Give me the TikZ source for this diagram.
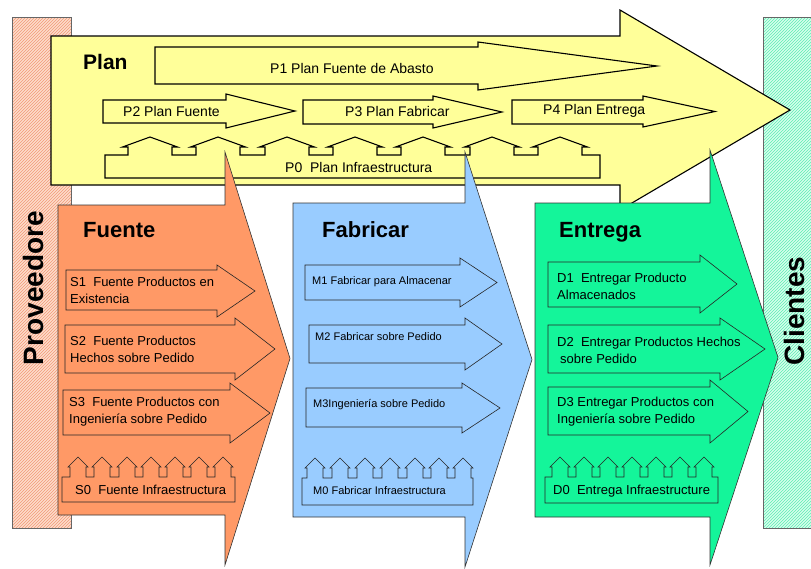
\documentclass[tikz,border=0pt]{standalone}
\usepackage{fontspec}
\setmainfont{Liberation Sans}
\usetikzlibrary{patterns}
\definecolor{planyellow}{HTML}{FFFF99}
\definecolor{srcorange}{HTML}{FF9966}
\definecolor{makeblue}{HTML}{99CCFF}
\definecolor{delgreen}{HTML}{14F59A}
\definecolor{provfill}{HTML}{FDDCCB}
\definecolor{provline}{HTML}{F29A78}
\definecolor{clifill}{HTML}{D6FFEC}
\definecolor{cliline}{HTML}{5EEBB4}
% block arrow: style, left, top, right, bottom, head top, head bottom, tip
\newcommand{\blockarrow}[8]{%
  \draw[#1] (#2,#3) -- (#4,#3) -- (#4,#6) -- (#8,{(#6+#7)/2}) -- (#4,#7) -- (#4,#5) -- (#2,#5) -- cycle;}
% infrastructure bar: style, left, right, top, bottom, peaks, half width, wall, roof
\newcommand{\infrabar}[9]{%
  \draw[#1] (#2,#5) -- (#2,#4)
    foreach \px in {#6} { -- (\px-#7,#4) -- (\px-#7,#4-#8) -- (\px-1.25*#7,#4-#8)
      -- (\px,#4-#8-#9) -- (\px+1.25*#7,#4-#8) -- (\px+#7,#4-#8) -- (\px+#7,#4) }
    -- (#3,#4) -- (#3,#5) -- cycle;}
\begin{document}
\begin{tikzpicture}[x=1pt,y=-1pt,
  bigline/.style={draw=black!80, line width=0.6pt},
  subline/.style={draw=black!85, line width=0.6pt},
  planline/.style={draw=black, line width=1.1pt},
  title/.style={anchor=west, inner sep=0pt, font=\fontsize{22}{26}\selectfont\bfseries},
  side/.style={rotate=90, inner sep=0pt, font=\fontsize{28}{32}\selectfont\bfseries},
  plbl/.style={anchor=west, inner sep=0pt, font=\fontsize{14}{17}\selectfont},
  lbl/.style={anchor=west, inner sep=0pt, align=left, font=\fontsize{13}{17}\selectfont},
  mlbl/.style={anchor=west, inner sep=0pt, font=\fontsize{11}{13}\selectfont}]
\useasboundingbox (0,0) rectangle (811,568);
\draw[black!60, line width=0.5pt, preaction={fill=provfill}, pattern=north east lines, pattern color=provline] (12,17) rectangle (71,528);
\draw[black!60, line width=0.5pt, preaction={fill=clifill}, pattern=north east lines, pattern color=cliline] (763,17) rectangle (820,528);
\node[side] (prov) at (33,288) {Proveedore};
\node[side] (cli) at (794,311) {Clientes};

\blockarrow{planline, fill=planyellow}{51}{36}{620}{185}{10}{210}{790}
\blockarrow{planline}{155}{47}{478}{84}{42}{90}{657}
\blockarrow{planline}{103}{100}{226}{123}{94}{128}{295}
\blockarrow{planline}{303}{100}{433}{124}{96}{128}{502}
\blockarrow{planline}{512}{100}{643}{124}{96}{127}{715}
\infrabar{planline}{105}{600}{155}{178}{150,218,287,355,423,492,560}{22}{8}{10}
\node[title, font=\fontsize{21}{25}\selectfont\bfseries] (plan) at (83,62) {Plan};
\node[plbl] (p1) at (270,68) {P1 Plan Fuente de Abasto};
\node[plbl] (p2) at (123,111) {P2 Plan Fuente};
\node[plbl] (p3) at (345,111) {P3 Plan Fabricar};
\node[plbl] (p4) at (543,111) {P4 Plan Entrega};
\node[plbl] (p0) at (285,167) {P0~~Plan Infraestructura};

\blockarrow{bigline, fill=srcorange}{58}{205}{225}{515}{152}{565}{290}
\blockarrow{subline}{66}{270}{217}{310}{265}{317}{255}
\blockarrow{subline}{65}{325}{235}{373}{318}{380}{275}
\blockarrow{subline}{63}{390}{230}{435}{383}{443}{270}
\infrabar{subline}{62}{235}{477}{502}{78,102,127,151,175,199,223}{8}{10}{10}
\node[title] (fuente) at (83,230) {Fuente};
\node[lbl] (s1) at (70,290) {S1~~Fuente Productos en\\Existencia};
\node[lbl] (s2) at (70,349) {S2~~Fuente Productos\\Hechos sobre Pedido};
\node[lbl] (s3) at (69,412) {S3~~Fuente Productos con\\Ingeniería sobre Pedido};
\node[lbl] (s0) at (75,490) {S0~~Fuente Infraestructura};

\blockarrow{bigline, fill=makeblue}{293}{203}{465}{517}{152}{567}{532}
\blockarrow{subline}{305}{265}{460}{300}{258}{307}{497}
\blockarrow{subline}{309}{325}{465}{363}{318}{370}{502}
\blockarrow{subline}{306}{388}{462}{427}{383}{433}{500}
\infrabar{subline}{302}{473}{478}{505}{315,340,365,390,415,439,463}{8}{10}{10}
\node[title] (fabricar) at (322,230) {Fabricar};
\node[mlbl] (m1) at (312,282) {M1 Fabricar para Almacenar};
\node[mlbl] (m2) at (315,337) {M2 Fabricar sobre Pedido};
\node[mlbl] (m3) at (313,405) {M3Ingeniería sobre Pedido};
\node[mlbl] (m0) at (313,491) {M0 Fabricar Infraestructura};

\blockarrow{bigline, fill=delgreen}{535}{203}{710}{517}{150}{565}{778}
\blockarrow{subline}{548}{262}{700}{307}{255}{313}{737}
\blockarrow{subline}{548}{325}{720}{373}{318}{380}{765}
\blockarrow{subline}{548}{387}{710}{435}{380}{443}{748}
\infrabar{subline}{545}{718}{477}{503}{560,584,608,632,656,680,704}{8}{10}{10}
\node[title] (entrega) at (559,232) {Entrega};
\node[lbl] (d1) at (557,286) {D1~~Entregar Producto\\Almacenados};
\node[lbl] (d2) at (557,350) {D2~~Entregar Productos Hechos\\\hspace{3pt}sobre Pedido};
\node[lbl] (d3) at (557,412) {D3 Entregar Productos con\\Ingeniería sobre Pedido};
\node[lbl] (d0) at (553,491) {D0~~Entrega Infraestructure};
\end{tikzpicture}
\end{document}
